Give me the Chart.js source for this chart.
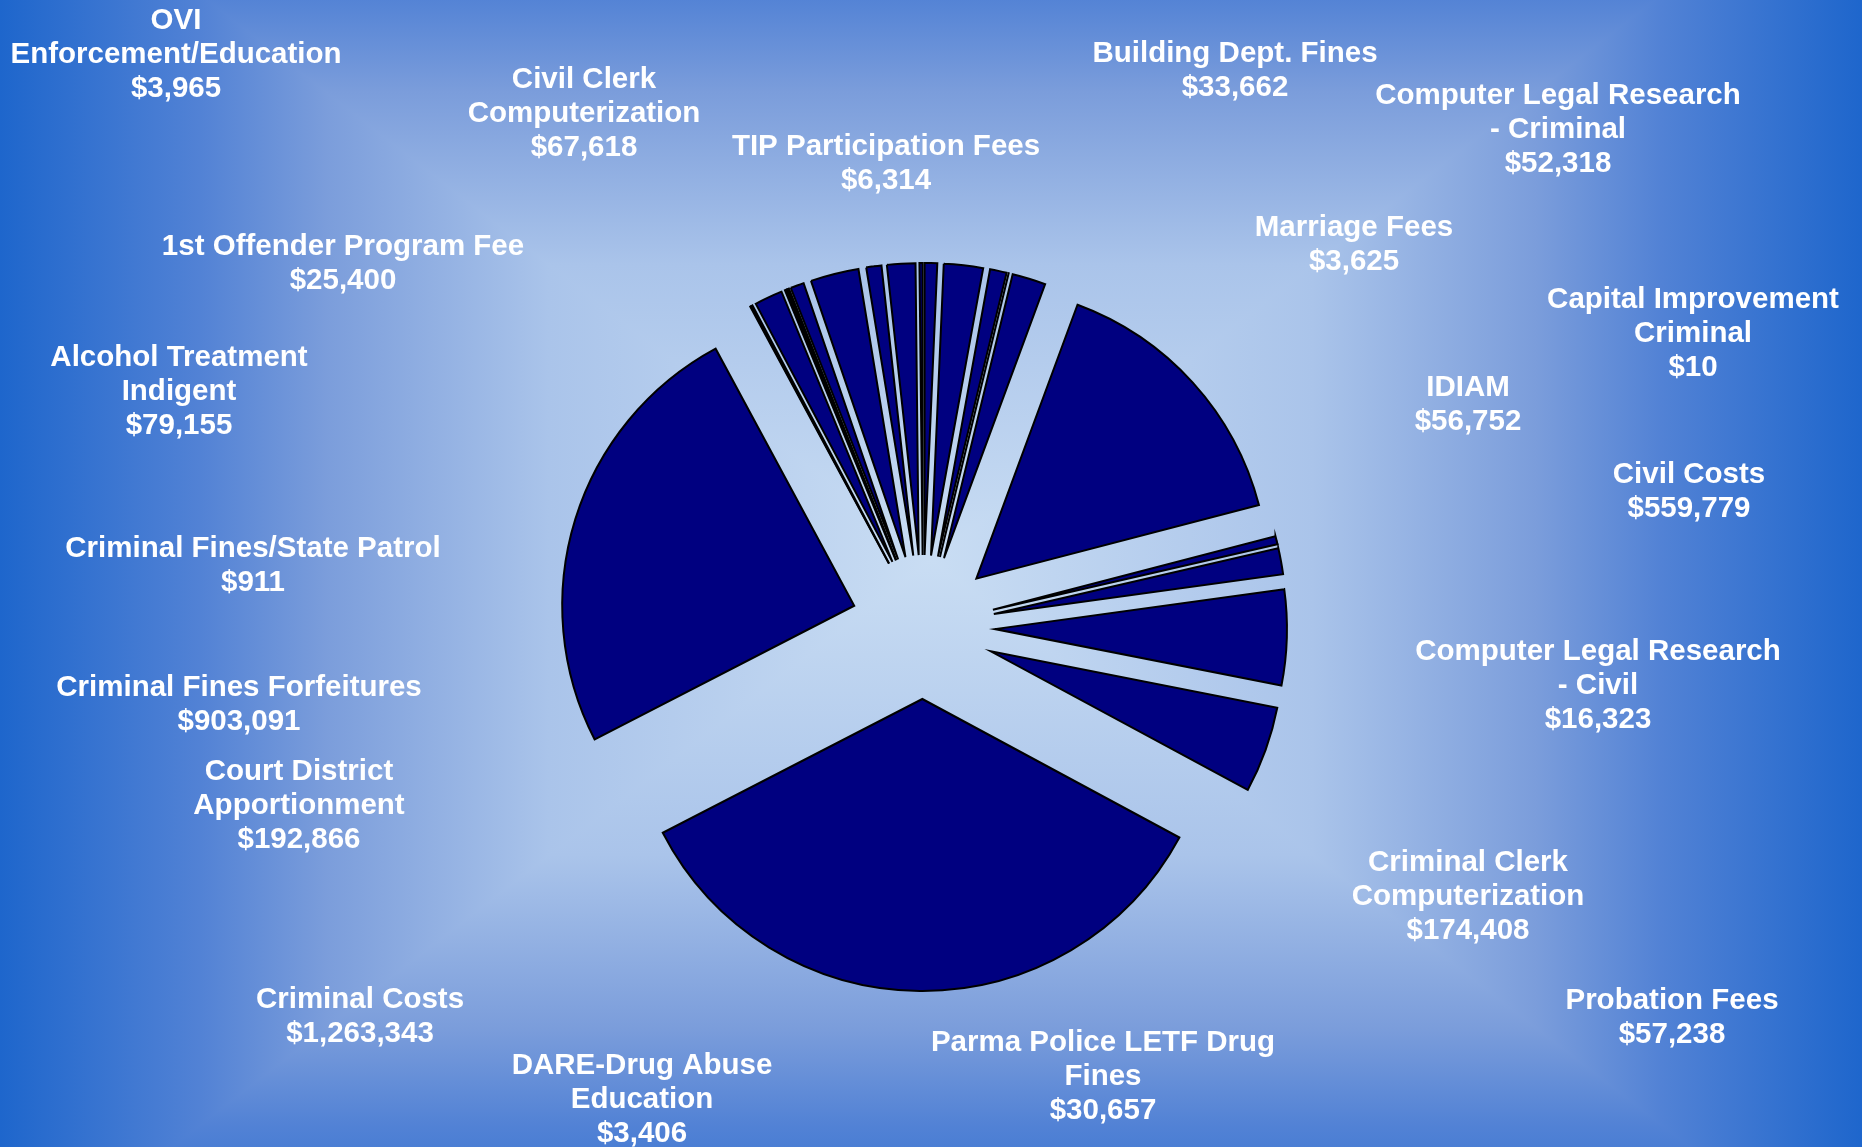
<!DOCTYPE html>
<html>
<head>
<meta charset="utf-8">
<title>Revenue by Source</title>
<script src="https://cdn.jsdelivr.net/npm/chart.js@4.4.1/dist/chart.umd.min.js"></script>
<style>
  html, body { margin: 0; padding: 0; background: #1f66cc; }
  #wrap { width: 1862px; height: 1147px; }
</style>
</head>
<body>
<div id="wrap"><canvas id="pieChart" width="1862" height="1147"></canvas></div>
<script>
// Slice names (\n marks where the label wraps) - two slices carry no label in the picture
var categories = [
    '1st Offender Program Fee', 'Alcohol Treatment\nIndigent', 'Building Dept. Fines',
    'Capital Improvement\nCriminal', 'Civil Clerk\nComputerization', 'Civil Costs',
    'Computer Legal Research\n- Civil', 'Computer Legal Research\n- Criminal',
    'Court District\nApportionment', 'Criminal Clerk\nComputerization', 'Criminal Costs',
    'Criminal Fines Forfeitures', 'Criminal Fines/State Patrol', 'DARE-Drug Abuse\nEducation',
    'IDIAM', 'Marriage Fees', 'OVI\nEnforcement/Education', '', '',
    'Parma Police LETF Drug\nFines', 'Probation Fees', 'TIP Participation Fees'
];

// Dollar amounts for each slice (the two unlabelled ones are estimated from their angle)
var revenue = [
    25400, 79155, 33662, 10, 67618, 559779, 16323, 52318, 192866, 174408, 1263343,
    903091, 911, 3406, 56752, 3625, 3965, 27400, 97500, 30657, 57238, 6314
];

// Where each label sits on the page (centre x, centre y of first line)
var labelPos = [
    [343, 247], [179, 358], [1235, 54], [1693, 300], [584, 80], [1689, 475],
    [1598, 652], [1558, 96], [299, 772], [1468, 863], [360, 1000], [239, 688],
    [253, 549], [642, 1066], [1468, 388], [1354, 228], [176, 21], null, null,
    [1103, 1043], [1672, 1001], [886, 147]
];

var explodeDist = 72;
var lineHeight = 34;

// background: rectangular "from centre" gradient, light in the middle, blue at the edges
var backgroundPlugin = {
    id: 'background',
    beforeDraw: function (chart) {
        var ctx = chart.ctx;
        var W = chart.width, H = chart.height;
        var cx = 931, cy = 560, a = 931, b = 720;
        var stops = [[0, '#c9ddf3'], [0.41, '#aac4ea'], [0.65, '#7b9ddb'], [0.785, '#5282d5'], [1, '#1e66cc']];

        function grad(x0, y0, x1, y1) {
            var g = ctx.createLinearGradient(x0, y0, x1, y1);
            stops.forEach(function (s) { g.addColorStop(s[0], s[1]); });
            return g;
        }

        ctx.save();
        // left and right halves
        ctx.fillStyle = grad(cx, 0, cx - a, 0);
        ctx.fillRect(0, 0, cx, H);
        ctx.fillStyle = grad(cx, 0, cx + a, 0);
        ctx.fillRect(cx, 0, W - cx, H);
        // top triangle
        ctx.beginPath();
        ctx.moveTo(cx, cy);
        ctx.lineTo(cx - a, cy - b);
        ctx.lineTo(cx + a, cy - b);
        ctx.closePath();
        ctx.fillStyle = grad(0, cy, 0, cy - b);
        ctx.fill();
        // bottom triangle
        ctx.beginPath();
        ctx.moveTo(cx, cy);
        ctx.lineTo(cx - a, cy + b);
        ctx.lineTo(cx + a, cy + b);
        ctx.closePath();
        ctx.fillStyle = grad(0, cy, 0, cy + b);
        ctx.fill();
        ctx.restore();
    }
};

// every slice pulled out from the centre along its middle angle
var explodePlugin = {
    id: 'explode',
    beforeDatasetDraw: function (chart, args) {
        var ctx = chart.ctx;
        args.meta.data.forEach(function (arc) {
            var mid = (arc.startAngle + arc.endAngle) / 2;
            ctx.save();
            ctx.translate(Math.cos(mid) * explodeDist, Math.sin(mid) * explodeDist);
            arc.draw(ctx);
            ctx.restore();
        });
        return false;
    }
};

// white bold labels placed around the pie
var labelPlugin = {
    id: 'sliceLabels',
    afterDatasetsDraw: function (chart) {
        var ctx = chart.ctx;
        ctx.save();
        ctx.fillStyle = '#ffffff';
        ctx.font = 'bold 29.5px "Liberation Sans", Arial, sans-serif';
        ctx.textAlign = 'center';
        ctx.textBaseline = 'middle';
        categories.forEach(function (name, i) {
            if (!labelPos[i]) return;
            var lines = name.split('\n');
            lines.push('$' + revenue[i].toLocaleString('en-US'));
            lines.forEach(function (line, j) {
                ctx.fillText(line, labelPos[i][0], labelPos[i][1] + j * lineHeight);
            });
        });
        ctx.restore();
    }
};

var pieCanvas = document.getElementById('pieChart').getContext('2d');
var pieChart = new Chart(pieCanvas, {
    type: 'pie',
    data: {
        labels: categories,
        datasets: [{
            data: revenue,
            backgroundColor: '#000080',
            borderColor: '#000000',
            borderWidth: 2,
            borderJoinStyle: 'miter'
        }]
    },
    options: {
        responsive: false,
        animation: false,
        radius: 292,
        layout: {
            padding: { top: 107, right: 16, left: 0, bottom: 0 }
        },
        plugins: {
            legend: { display: false },
            tooltip: { enabled: false }
        }
    },
    plugins: [backgroundPlugin, explodePlugin, labelPlugin]
});
</script>
</body>
</html>
